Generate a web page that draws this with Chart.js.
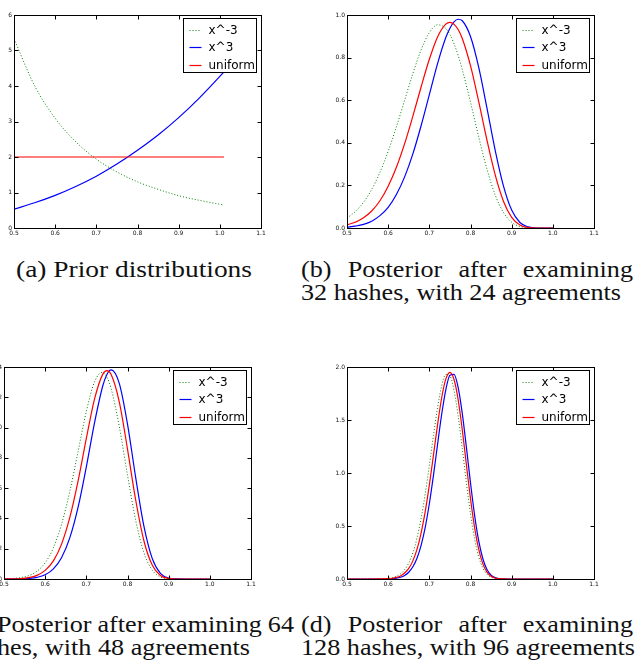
<!DOCTYPE html>
<html>
<head>
<meta charset="utf-8">
<script src="https://cdn.jsdelivr.net/npm/chart.js@4.4.1/dist/chart.umd.min.js"></script>
<style>
  html, body { margin: 0; padding: 0; background: #fff; }
  body { width: 635px; height: 660px; overflow: hidden; position: relative; }
  .panel { position: absolute; }
  .cap {
    position: absolute; white-space: nowrap; transform-origin: 0 0;
    font-family: "Liberation Serif", "Times New Roman", serif;
    font-size: 23px; line-height: 22px; color: #111;
  }
  #pa { left: -2px; top: 9px;   width: 271px; height: 233px; }
  #pb { left: 331px; top: 9px;  width: 271px; height: 233px; }
  #pc { left: -12px; top: 361px; width: 271px; height: 232px; }
  #pd { left: 331px; top: 361px; width: 271px; height: 232px; }
</style>
</head>
<body>
<div class="panel" id="pa"><canvas id="ca"></canvas></div>
<div class="panel" id="pb"><canvas id="cb"></canvas></div>
<div class="panel" id="pc"><canvas id="cc"></canvas></div>
<div class="panel" id="pd"><canvas id="cd"></canvas></div>

<div class="cap" data-w="236" style="left:16px;top:259.4px">(a) Prior distributions</div>
<div class="cap" data-w="332" data-j="1" style="left:301px;top:259.4px">(b) Posterior after examining</div>
<div class="cap" data-w="320" id="capRef" style="left:301px;top:281.9px">32 hashes, with 24 agreements</div>
<div class="cap" data-w="332" data-j="1" style="left:-38px;top:614.4px">(c) Posterior after examining 64</div>
<div class="cap" data-w="288" style="left:-38px;top:637px">hashes, with 48 agreements</div>
<div class="cap" data-w="332" data-j="1" style="left:301px;top:614.4px">(d) Posterior after examining</div>
<div class="cap" data-w="334" style="left:301px;top:637px">128 hashes, with 96 agreements</div>

<script>
// shared axis ticks
const xTicks = [0.5, 0.6, 0.7, 0.8, 0.9, 1.0, 1.1];
const seriesNames = ["x^-3", "x^3", "uniform"];

// (a) prior distributions
const xA = [0.50, 0.55, 0.60, 0.65, 0.70, 0.75, 0.80, 0.85, 0.90, 0.95, 1.00, 1.01];
const invA  = [5.33, 4.01, 3.09, 2.43, 1.94, 1.58, 1.30, 1.09, 0.91, 0.78, 0.67, 0.65];
const cubeA = [0.53, 0.71, 0.92, 1.17, 1.46, 1.80, 2.19, 2.62, 3.11, 3.66, 4.27, 4.40];
const unifA = [2, 2, 2, 2, 2, 2, 2, 2, 2, 2, 2, 2];
const yTicksA = [0, 1, 2, 3, 4, 5, 6];

// (b) 32 hashes, 24 agreements
const xB = [0.50, 0.52, 0.54, 0.56, 0.58, 0.60, 0.62, 0.64, 0.66, 0.68, 0.70, 0.72, 0.74, 0.75,
            0.76, 0.77, 0.78, 0.80, 0.82, 0.84, 0.86, 0.88, 0.90, 0.92, 0.94, 0.96, 1.00];
const invB  = [0.047, 0.077, 0.120, 0.181, 0.261, 0.360, 0.475, 0.600, 0.725, 0.836, 0.917, 0.954, 0.937, 0.908,
               0.865, 0.810, 0.744, 0.591, 0.427, 0.276, 0.155, 0.073, 0.027, 0.007, 0.001, 0.000, 0];
const cubeB = [0.004, 0.009, 0.017, 0.032, 0.058, 0.097, 0.157, 0.240, 0.348, 0.480, 0.626, 0.772, 0.894, 0.938,
               0.968, 0.980, 0.973, 0.899, 0.754, 0.563, 0.365, 0.198, 0.084, 0.026, 0.005, 0.000, 0];
const unifB = [0.015, 0.027, 0.048, 0.080, 0.128, 0.196, 0.285, 0.396, 0.525, 0.662, 0.792, 0.897, 0.957, 0.965,
               0.956, 0.932, 0.890, 0.762, 0.593, 0.412, 0.249, 0.126, 0.050, 0.014, 0.002, 0.000, 0];
const yTicksB = [0, 0.2, 0.4, 0.6, 0.8, 1.0];

// (c) 64 hashes, 48 agreements
const xC = [0.50, 0.52, 0.54, 0.56, 0.58, 0.60, 0.62, 0.64, 0.66, 0.68, 0.70, 0.72, 0.74, 0.75,
            0.76, 0.78, 0.80, 0.82, 0.84, 0.86, 0.88, 0.90, 0.92, 0.95, 1.00];
const invC  = [0.001, 0.003, 0.009, 0.022, 0.051, 0.107, 0.206, 0.363, 0.580, 0.843, 1.106, 1.303, 1.366, 1.334,
               1.260, 1.008, 0.686, 0.386, 0.173, 0.059, 0.014, 0.002, 0.000, 0, 0];
const cubeC = [0.000, 0.000, 0.001, 0.004, 0.011, 0.028, 0.067, 0.142, 0.273, 0.474, 0.741, 1.033, 1.276, 1.351,
               1.381, 1.292, 1.023, 0.668, 0.347, 0.136, 0.037, 0.006, 0.001, 0, 0];
const unifC = [0.000, 0.001, 0.003, 0.009, 0.024, 0.057, 0.120, 0.232, 0.408, 0.648, 0.928, 1.189, 1.353, 1.376,
               1.352, 1.170, 0.858, 0.520, 0.251, 0.092, 0.023, 0.004, 0.000, 0, 0];
const yTicksC = [0, 0.2, 0.4, 0.6, 0.8, 1.0, 1.2, 1.4];

// (d) 128 hashes, 96 agreements
const xD = [0.50, 0.55, 0.58, 0.60, 0.61, 0.62, 0.63, 0.64, 0.65, 0.66, 0.67, 0.68, 0.69, 0.70, 0.71, 0.72,
            0.73, 0.74, 0.75, 0.76, 0.77, 0.78, 0.79, 0.80, 0.81, 0.82, 0.83, 0.84, 0.85, 0.86, 0.87,
            0.88, 0.89, 0.90, 0.95, 1.00];
const invD  = [0, 0, 0.001, 0.006, 0.013, 0.026, 0.049, 0.088, 0.151, 0.247, 0.385, 0.570, 0.803, 1.071, 1.354, 1.617,
               1.822, 1.929, 1.917, 1.778, 1.538, 1.231, 0.908, 0.614, 0.378, 0.209, 0.104, 0.045, 0.017, 0.006, 0.002,
               0.000, 0.000, 0, 0, 0];
const cubeD = [0, 0, 0.000, 0.002, 0.004, 0.008, 0.017, 0.034, 0.064, 0.115, 0.196, 0.318, 0.488, 0.710, 0.977, 1.270,
               1.554, 1.785, 1.923, 1.931, 1.807, 1.562, 1.244, 0.907, 0.601, 0.359, 0.191, 0.090, 0.037, 0.013, 0.004,
               0.001, 0.000, 0, 0, 0];
const unifD = [0, 0, 0.001, 0.003, 0.007, 0.015, 0.029, 0.056, 0.100, 0.171, 0.279, 0.433, 0.636, 0.886, 1.168, 1.456,
               1.710, 1.885, 1.950, 1.882, 1.693, 1.409, 1.080, 0.758, 0.484, 0.279, 0.143, 0.065, 0.026, 0.009, 0.002,
               0.001, 0.000, 0, 0, 0];
const yTicksD = [0, 0.5, 1.0, 1.5, 2.0];

// matplotlib-like frame, inward ticks on all four sides, legend box top right
const mplFrame = {
  id: 'mplFrame',
  afterDatasetsDraw(chart) {
    const { ctx, chartArea: a, scales: { x, y } } = chart;
    const L = Math.round(a.left) + 0.5, R = Math.round(a.right) + 0.5;
    const T = Math.round(a.top) + 0.5, B = Math.round(a.bottom) + 0.5;
    ctx.save();
    ctx.strokeStyle = '#000';
    ctx.lineWidth = 1;
    ctx.strokeRect(L, T, R - L, B - T);
    ctx.beginPath();
    x.ticks.forEach(t => {
      const px = Math.round(x.getPixelForValue(t.value)) + 0.5;
      ctx.moveTo(px, B); ctx.lineTo(px, B - 4);
      ctx.moveTo(px, T); ctx.lineTo(px, T + 4);
    });
    y.ticks.forEach(t => {
      const py = Math.round(y.getPixelForValue(t.value)) + 0.5;
      ctx.moveTo(L, py); ctx.lineTo(L + 4, py);
      ctx.moveTo(R, py); ctx.lineTo(R - 4, py);
    });
    ctx.stroke();

    // legend
    const bw = 73, bh = 54;
    const bx = Math.round(a.right) - 5 - bw + 0.5;
    const by = Math.round(a.top) + 3 + 0.5;
    ctx.fillStyle = '#fff';
    ctx.fillRect(bx, by, bw, bh);
    ctx.strokeRect(bx, by, bw, bh);
    ctx.font = '12px "DejaVu Sans"';
    ctx.textBaseline = 'middle';
    chart.data.datasets.forEach((ds, i) => {
      const cy = Math.round(by + 11 + i * 17.5) + 0.5;
      ctx.beginPath();
      ctx.setLineDash(ds.borderDash || []);
      ctx.strokeStyle = ds.borderColor;
      ctx.lineWidth = ds.borderWidth;
      ctx.moveTo(bx + 6, cy);
      ctx.lineTo(bx + 18, cy);
      ctx.stroke();
      ctx.setLineDash([]);
      ctx.fillStyle = '#000';
      ctx.fillText(ds.label, bx + 25, cy);
    });
    ctx.restore();
  }
};

function pts(xs, ys) {
  return xs.map((x, i) => ({ x: x, y: ys[i] }));
}

function makeChart(id, xs, inv, cube, unif, yTicks, yFmt) {
  const line = { pointRadius: 0, cubicInterpolationMode: 'monotone', fill: false };
  return new Chart(document.getElementById(id), {
    type: 'line',
    data: {
      datasets: [
        Object.assign({ label: seriesNames[0], data: pts(xs, inv), borderColor: '#008000',
                        borderWidth: 1, borderDash: [1, 2], order: 3 }, line),
        Object.assign({ label: seriesNames[1], data: pts(xs, cube), borderColor: '#0000ff',
                        borderWidth: 1.2, order: 2 }, line),
        Object.assign({ label: seriesNames[2], data: pts(xs, unif), borderColor: '#ff0000',
                        borderWidth: 1.2, order: 1 }, line)
      ]
    },
    options: {
      responsive: true,
      maintainAspectRatio: false,
      animation: false,
      layout: { padding: { top: 6, right: 8, left: 0, bottom: 0 } },
      plugins: { legend: { display: false }, tooltip: { enabled: false } },
      scales: {
        x: {
          type: 'linear', min: 0.5, max: 1.1,
          afterBuildTicks: s => { s.ticks = xTicks.map(v => ({ value: v })); },
          afterFit: s => { s.height = 14; },
          grid: { display: false, drawTicks: false },
          border: { display: false },
          ticks: { padding: 2, maxRotation: 0, autoSkip: false, color: '#111',
                   font: { family: 'DejaVu Sans', size: 6 },
                   callback: v => v.toFixed(1) }
        },
        y: {
          type: 'linear', min: yTicks[0], max: yTicks[yTicks.length - 1],
          afterBuildTicks: s => { s.ticks = yTicks.map(v => ({ value: v })); },
          afterFit: s => { s.width = 16; },
          grid: { display: false, drawTicks: false },
          border: { display: false },
          ticks: { padding: 2, autoSkip: false, color: '#111',
                   font: { family: 'DejaVu Sans', size: 6 },
                   callback: yFmt }
        }
      }
    },
    plugins: [mplFrame]
  });
}

const intFmt = v => String(v);
const oneDec = v => v.toFixed(1);
makeChart('ca', xA, invA, cubeA, unifA, yTicksA, intFmt);
makeChart('cb', xB, invB, cubeB, unifB, yTicksB, oneDec);
makeChart('cc', xC, invC, cubeC, unifC, yTicksC, oneDec);
makeChart('cd', xD, invD, cubeD, unifD, yTicksD, oneDec);

// captions: widen the serif face toward Computer Modern proportions;
// plain lines are stretched to their measured width, justified lines share
// the reference stretch and take the rest up in their word gaps
const caps = Array.from(document.querySelectorAll('.cap'));
const natural = caps.map(el => el.getBoundingClientRect().width);
const refScale = 320 / document.getElementById('capRef').getBoundingClientRect().width;
caps.forEach((el, i) => {
  const target = +el.dataset.w;
  let s = target / natural[i];
  if (el.dataset.j) {
    s = refScale;
    const spaces = (el.textContent.match(/ /g) || []).length;
    el.style.wordSpacing = ((target / s - natural[i]) / spaces).toFixed(2) + 'px';
  }
  el.style.transform = 'scaleX(' + s.toFixed(4) + ')';
});
</script>
</body>
</html>
